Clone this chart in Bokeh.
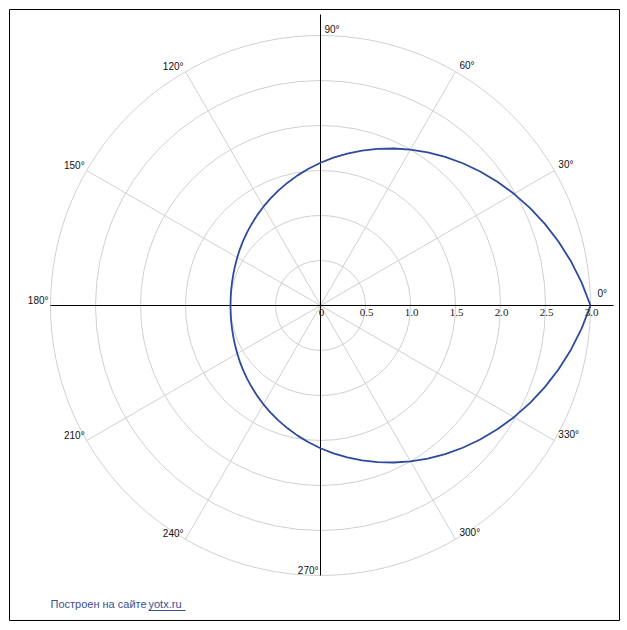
import numpy as np
from bokeh.plotting import figure
from bokeh.models import ColumnDataSource
from bokeh.core.properties import value
from bokeh.embed import file_html
from bokeh.resources import INLINE

# ---- data ----
angles_deg = [0, 5, 10, 15, 20, 25, 30, 35, 40, 45, 50, 55, 60, 65, 70, 75, 80, 85, 90,
              95, 100, 105, 110, 115, 120, 125, 130, 135, 140, 145, 150, 155, 160, 165, 170, 175, 180,
              185, 190, 195, 200, 205, 210, 215, 220, 225, 230, 235, 240, 245, 250, 255, 260, 265, 270,
              275, 280, 285, 290, 295, 300, 305, 310, 315, 320, 325, 330, 335, 340, 345, 350, 355, 360]
r_values = [3.000, 2.913, 2.826, 2.739, 2.653, 2.567, 2.482, 2.399, 2.316, 2.235, 2.155, 2.077, 2.000,
            1.925, 1.853, 1.782, 1.714, 1.649, 1.586, 1.525, 1.468, 1.413, 1.362, 1.313, 1.268,
            1.226, 1.187, 1.152, 1.121, 1.093, 1.068, 1.047, 1.030, 1.017, 1.008, 1.002, 1.000,
            1.002, 1.008, 1.017, 1.030, 1.047, 1.068, 1.093, 1.121, 1.152, 1.187, 1.226, 1.268,
            1.313, 1.362, 1.413, 1.468, 1.525, 1.586, 1.649, 1.714, 1.782, 1.853, 1.925, 2.000,
            2.077, 2.155, 2.235, 2.316, 2.399, 2.482, 2.567, 2.653, 2.739, 2.826, 2.913, 3.000]
ring_radii = [0.5, 1.0, 1.5, 2.0, 2.5, 3.0]
tick_values = [0, 0.5, 1.0, 1.5, 2.0, 2.5, 3.0]
tick_labels = ["0", "0.5", "1.0", "1.5", "2.0", "2.5", "3.0"]
spoke_angles = [30, 60, 120, 150, 210, 240, 300, 330]
label_angles_right = [0, 30, 60, 90, 300, 330]
label_angles_left = [120, 150, 180, 210, 240, 270]
footer_text = "Построен на сайте"
footer_link = "yotx.ru"

R_MAX = 3.0
SCALE = 90.0

# canvas / frame geometry (pixels)
BL, BT = 9, 9           # frame offset inside canvas
FW, FH = 610, 611       # frame size
FCX, FCY = 311, 296     # polar centre inside frame

p = figure(width=BL + FW + 1, height=BT + FH + 1, output_backend="svg", toolbar_location=None,
           x_range=(-FCX / SCALE, (FW - FCX) / SCALE), y_range=(-(FH - FCY) / SCALE, FCY / SCALE),
           min_border_left=BL, min_border_top=BT, min_border_right=1, min_border_bottom=1,
           background_fill_color="white", border_fill_color="white")
p.axis.visible = False
p.grid.visible = False
p.outline_line_color = "black"
p.outline_line_width = 1

def px2x(px):
    return (px - BL - FCX) / SCALE

def px2y(py):
    return (BT + FCY - py) / SCALE

grid_col = "#d0d0d0"

# rings
p.circle(x=[0] * len(ring_radii), y=[0] * len(ring_radii), radius=ring_radii,
         fill_color=None, line_color=grid_col, line_width=1)

# spokes
sa = np.radians(spoke_angles)
p.segment(x0=[0] * len(sa), y0=[0] * len(sa), x1=R_MAX * np.cos(sa), y1=R_MAX * np.sin(sa),
          line_color=grid_col, line_width=1)

# main axes (extend beyond the outer ring on the positive side)
p.segment(x0=[-R_MAX, 0], y0=[0, -R_MAX], x1=[px2x(613), 0], y1=[0, px2y(14)],
          line_color="black", line_width=1)

# curve
th = np.radians(angles_deg)
rr = np.array(r_values)
p.line(rr * np.cos(th), rr * np.sin(th), line_color="#2d4a9e", line_width=1.8)

# radial tick labels
p.text(x=tick_values, y=[0] * len(tick_values), text=tick_labels,
       text_font=value("Liberation Serif"), text_font_size="11px", text_color="#222222",
       text_align="center", text_baseline="top", x_offset=1, y_offset=3)

# angle labels
ar = np.radians(label_angles_right)
xoff_r = [7 if a == 0 else 4 for a in label_angles_right]
yoff_r = [-7 if a == 0 else -1 for a in label_angles_right]
src_r = ColumnDataSource(dict(x=R_MAX * np.cos(ar), y=R_MAX * np.sin(ar),
                              t=[f"{a}°" for a in label_angles_right], xo=xoff_r, yo=yoff_r))
p.text(x="x", y="y", text="t", source=src_r, x_offset="xo", y_offset="yo",
       text_font=value("Liberation Sans"), text_font_size="10px", text_color="#111111",
       text_align="left", text_baseline="bottom")

al = np.radians(label_angles_left)
src_l = ColumnDataSource(dict(x=R_MAX * np.cos(al), y=R_MAX * np.sin(al),
                              t=[f"{a}°" for a in label_angles_left]))
p.text(x="x", y="y", text="t", source=src_l, x_offset=-2, y_offset=0,
       text_font=value("Liberation Sans"), text_font_size="10px", text_color="#111111",
       text_align="right", text_baseline="bottom")

# footer
foot_col = "#3a5090"
p.text(x=[px2x(50)], y=[px2y(609)], text=[footer_text],
       text_font=value("Liberation Sans"), text_font_size="11px", text_color=foot_col,
       text_align="left", text_baseline="bottom")
p.text(x=[px2x(148)], y=[px2y(609)], text=[footer_link],
       text_font=value("Liberation Sans"), text_font_size="11px", text_color=foot_col,
       text_align="left", text_baseline="bottom")
p.segment(x0=[px2x(148)], y0=[px2y(610)], x1=[px2x(185)], y1=[px2y(610)],
          line_color=foot_col, line_width=1)

open("out.html", "w").write(file_html(p, INLINE))
